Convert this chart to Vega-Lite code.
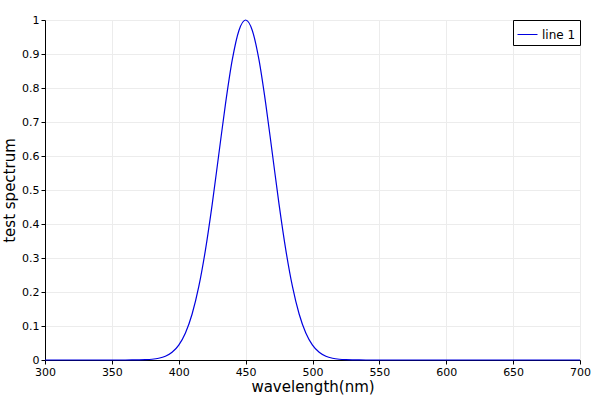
{
  "$schema": "https://vega.github.io/schema/vega-lite/v6.json",
  "width": 535,
  "height": 340,
  "autosize": {"type": "none"},
  "padding": {"left": 45, "top": 20, "right": 20, "bottom": 40},
  "background": "white",
  "config": {
    "view": {"stroke": null},
    "font": "DejaVu Sans",
    "axis": {
      "domainColor": "black",
      "tickColor": "black",
      "tickSize": 4,
      "gridColor": "#ececec",
      "labelColor": "black",
      "titleColor": "black",
      "labelFont": "DejaVu Sans",
      "titleFont": "DejaVu Sans",
      "labelFontSize": 11,
      "titleFontSize": 15,
      "titleFontWeight": "normal",
      "labelFlush": false,
      "labelOverlap": false
    }
  },
  "data": {
    "values": [
      {"wavelength": 300, "value": 0, "series": "line 1"},
      {"wavelength": 340, "value": 0, "series": "line 1"},
      {"wavelength": 345, "value": 0.000001, "series": "line 1"},
      {"wavelength": 350, "value": 0.000004, "series": "line 1"},
      {"wavelength": 355, "value": 0.000013, "series": "line 1"},
      {"wavelength": 360, "value": 0.00004, "series": "line 1"},
      {"wavelength": 365, "value": 0.000119, "series": "line 1"},
      {"wavelength": 370, "value": 0.000335, "series": "line 1"},
      {"wavelength": 375, "value": 0.00088, "series": "line 1"},
      {"wavelength": 380, "value": 0.00219, "series": "line 1"},
      {"wavelength": 385, "value": 0.00509, "series": "line 1"},
      {"wavelength": 390, "value": 0.01111, "series": "line 1"},
      {"wavelength": 395, "value": 0.02279, "series": "line 1"},
      {"wavelength": 400, "value": 0.04394, "series": "line 1"},
      {"wavelength": 405, "value": 0.07956, "series": "line 1"},
      {"wavelength": 410, "value": 0.13534, "series": "line 1"},
      {"wavelength": 415, "value": 0.21627, "series": "line 1"},
      {"wavelength": 420, "value": 0.32465, "series": "line 1"},
      {"wavelength": 425, "value": 0.45783, "series": "line 1"},
      {"wavelength": 430, "value": 0.60653, "series": "line 1"},
      {"wavelength": 435, "value": 0.75484, "series": "line 1"},
      {"wavelength": 440, "value": 0.8825, "series": "line 1"},
      {"wavelength": 445, "value": 0.96923, "series": "line 1"},
      {"wavelength": 450, "value": 1, "series": "line 1"},
      {"wavelength": 455, "value": 0.96923, "series": "line 1"},
      {"wavelength": 460, "value": 0.8825, "series": "line 1"},
      {"wavelength": 465, "value": 0.75484, "series": "line 1"},
      {"wavelength": 470, "value": 0.60653, "series": "line 1"},
      {"wavelength": 475, "value": 0.45783, "series": "line 1"},
      {"wavelength": 480, "value": 0.32465, "series": "line 1"},
      {"wavelength": 485, "value": 0.21627, "series": "line 1"},
      {"wavelength": 490, "value": 0.13534, "series": "line 1"},
      {"wavelength": 495, "value": 0.07956, "series": "line 1"},
      {"wavelength": 500, "value": 0.04394, "series": "line 1"},
      {"wavelength": 505, "value": 0.02279, "series": "line 1"},
      {"wavelength": 510, "value": 0.01111, "series": "line 1"},
      {"wavelength": 515, "value": 0.00509, "series": "line 1"},
      {"wavelength": 520, "value": 0.00219, "series": "line 1"},
      {"wavelength": 525, "value": 0.00088, "series": "line 1"},
      {"wavelength": 530, "value": 0.000335, "series": "line 1"},
      {"wavelength": 535, "value": 0.000119, "series": "line 1"},
      {"wavelength": 540, "value": 0.00004, "series": "line 1"},
      {"wavelength": 545, "value": 0.000013, "series": "line 1"},
      {"wavelength": 550, "value": 0.000004, "series": "line 1"},
      {"wavelength": 555, "value": 0.000001, "series": "line 1"},
      {"wavelength": 560, "value": 0, "series": "line 1"},
      {"wavelength": 700, "value": 0, "series": "line 1"}
    ]
  },
  "mark": {"type": "line", "strokeWidth": 1.2, "interpolate": "monotone"},
  "encoding": {
    "x": {
      "field": "wavelength",
      "type": "quantitative",
      "scale": {"domain": [300, 700], "nice": false, "zero": false},
      "axis": {"title": "wavelength(nm)", "values": [300, 350, 400, 450, 500, 550, 600, 650, 700], "titlePadding": 2, "labelPadding": 2}
    },
    "y": {
      "field": "value",
      "type": "quantitative",
      "scale": {"domain": [0, 1], "nice": false},
      "axis": {"title": "test spectrum", "format": "~g", "values": [0, 0.1, 0.2, 0.3, 0.4, 0.5, 0.6, 0.7, 0.8, 0.9, 1], "titlePadding": 4, "labelPadding": 2}
    },
    "color": {
      "field": "series",
      "type": "nominal",
      "scale": {"range": ["#0000e0"]},
      "legend": {
        "title": null,
        "orient": "top-right",
        "offset": 0,
        "strokeColor": "black",
        "fillColor": "white",
        "padding": 4,
        "symbolType": "stroke",
        "symbolSize": 400,
        "symbolStrokeWidth": 1,
        "labelFontSize": 12,
        "labelFont": "DejaVu Sans",
        "labelColor": "black"
      }
    }
  }
}
